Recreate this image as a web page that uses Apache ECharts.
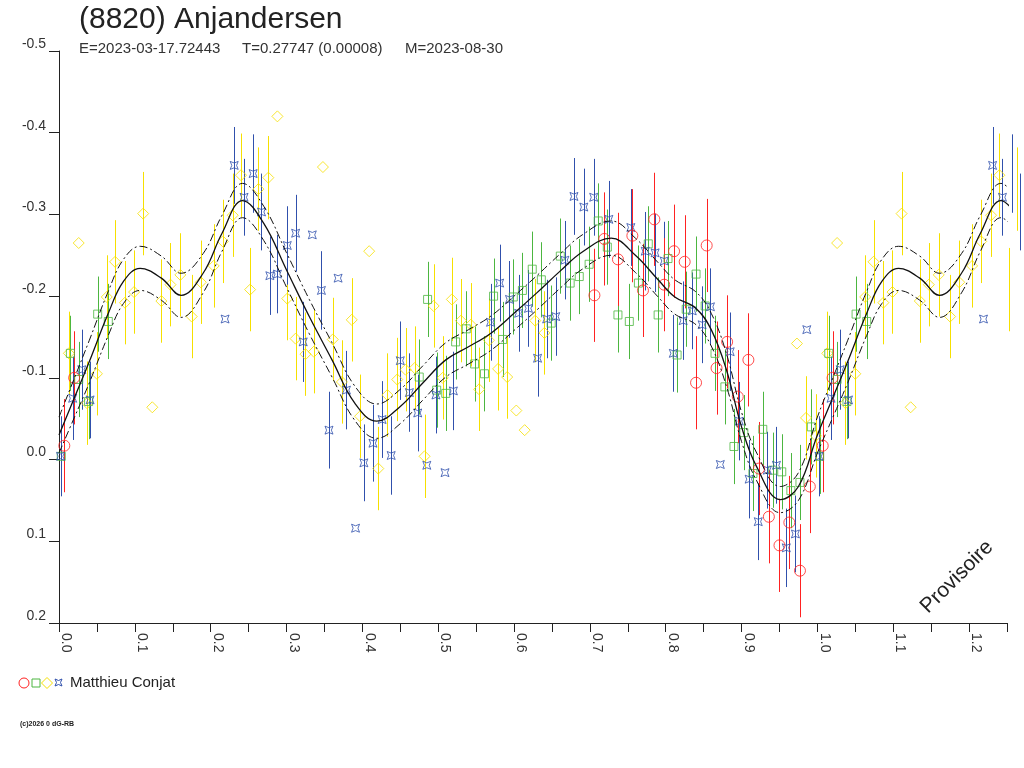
<!DOCTYPE html>
<html>
<head>
<meta charset="utf-8">
<title>(8820) Anjandersen</title>
<script src="https://cdn.jsdelivr.net/npm/echarts@6/dist/echarts.min.js"></script>
<style>
  html, body { margin: 0; padding: 0; background: #fff; }
  #main { width: 1024px; height: 768px; }
</style>
</head>
<body>
<div id="main"></div>
<script>
// phase, magnitude, error (0 = no bar drawn)
const redPoints = [
  [0.007, -0.017, 0.057], [0.020, -0.100, 0.057], [0.706, -0.201, 0.057],
  [0.719, -0.270, 0.057], [0.737, -0.245, 0.057], [0.756, -0.274, 0.057],
  [0.770, -0.207, 0.057], [0.785, -0.294, 0.057], [0.798, -0.214, 0.057],
  [0.811, -0.255, 0.057], [0.825, -0.242, 0.057], [0.840, -0.094, 0.057],
  [0.854, -0.262, 0.057], [0.867, -0.112, 0.057], [0.881, -0.144, 0.057],
  [0.895, -0.077, 0.057], [0.909, -0.122, 0.057], [0.923, 0.011, 0.057],
  [0.936, 0.070, 0.057], [0.950, 0.105, 0.057], [0.963, 0.077, 0.057],
  [0.977, 0.136, 0.057], [0.990, 0.033, 0.057],
];

const greenPoints = [
  [0.003, -0.004, 0.046], [0.015, -0.130, 0.046], [0.026, -0.098, 0.046],
  [0.039, -0.071, 0.046], [0.051, -0.178, 0.046], [0.065, -0.169, 0.046],
  [0.475, -0.101, 0.046], [0.486, -0.196, 0.046], [0.498, -0.085, 0.046],
  [0.510, -0.081, 0.046], [0.523, -0.144, 0.046], [0.537, -0.160, 0.046],
  [0.548, -0.117, 0.046], [0.561, -0.105, 0.046], [0.573, -0.200, 0.046],
  [0.585, -0.147, 0.046], [0.599, -0.199, 0.046], [0.611, -0.207, 0.046],
  [0.624, -0.233, 0.046], [0.636, -0.220, 0.046], [0.649, -0.167, 0.046],
  [0.661, -0.249, 0.046], [0.674, -0.216, 0.046], [0.686, -0.224, 0.046],
  [0.699, -0.239, 0.046], [0.711, -0.292, 0.046], [0.723, -0.260, 0.046],
  [0.737, -0.177, 0.046], [0.752, -0.169, 0.046], [0.764, -0.216, 0.046],
  [0.777, -0.264, 0.046], [0.790, -0.177, 0.046], [0.803, -0.246, 0.046],
  [0.815, -0.128, 0.046], [0.827, -0.184, 0.046], [0.840, -0.227, 0.046],
  [0.852, -0.188, 0.046], [0.865, -0.130, 0.046], [0.878, -0.089, 0.046],
  [0.890, -0.016, 0.046], [0.903, -0.033, 0.046], [0.915, 0.017, 0.046],
  [0.928, -0.037, 0.046], [0.941, 0.013, 0.046], [0.953, 0.015, 0.046],
  [0.965, 0.038, 0.046], [0.977, 0.028, 0.046], [0.992, -0.040, 0.046],
];

const yellowPoints = [
  [0.013, -0.130, 0.051], [0.026, -0.265, 0], [0.037, -0.069, 0.051],
  [0.050, -0.105, 0.051], [0.063, -0.199, 0.051], [0.074, -0.242, 0.051],
  [0.087, -0.192, 0.051], [0.099, -0.205, 0.051], [0.111, -0.301, 0.051],
  [0.123, -0.064, 0], [0.135, -0.194, 0.051], [0.147, -0.214, 0.051],
  [0.160, -0.226, 0.051], [0.175, -0.175, 0.051], [0.187, -0.217, 0.051],
  [0.204, -0.237, 0.051], [0.216, -0.267, 0.051], [0.229, -0.299, 0.051],
  [0.240, -0.348, 0.051], [0.252, -0.208, 0.051], [0.263, -0.331, 0.051],
  [0.276, -0.345, 0.051], [0.288, -0.420, 0], [0.301, -0.197, 0.051],
  [0.312, -0.148, 0.051], [0.325, -0.129, 0.051], [0.336, -0.132, 0.051],
  [0.348, -0.358, 0], [0.361, -0.147, 0.051], [0.373, -0.095, 0.051],
  [0.386, -0.171, 0.051], [0.397, -0.053, 0.051], [0.409, -0.255, 0],
  [0.421, 0.011, 0.051], [0.433, -0.079, 0.051], [0.446, -0.098, 0.051],
  [0.457, -0.110, 0.051], [0.469, -0.112, 0.051], [0.482, -0.004, 0.051],
  [0.494, -0.188, 0.051], [0.506, -0.100, 0.051], [0.518, -0.196, 0.051],
  [0.530, -0.170, 0.051], [0.543, -0.165, 0.051], [0.554, -0.086, 0.051],
  [0.567, -0.146, 0.051], [0.579, -0.111, 0.051], [0.591, -0.101, 0.051],
  [0.603, -0.060, 0], [0.614, -0.036, 0], [0.628, -0.170, 0.051],
  [0.640, -0.155, 0.051], [0.973, -0.142, 0], [0.985, -0.051, 0.051],
  [0.998, -0.029, 0.051],
];

const bluePoints = [
  [0.002, -0.004, 0.049], [0.018, -0.075, 0.051], [0.030, -0.110, 0.049],
  [0.041, -0.073, 0.047], [0.219, -0.172, 0], [0.231, -0.360, 0.047],
  [0.244, -0.321, 0.047], [0.256, -0.350, 0.048], [0.267, -0.303, 0.047],
  [0.278, -0.225, 0.048], [0.288, -0.227, 0.048], [0.301, -0.262, 0.048],
  [0.312, -0.277, 0.047], [0.322, -0.144, 0.049], [0.334, -0.275, 0],
  [0.346, -0.207, 0.048], [0.356, -0.036, 0.047], [0.368, -0.222, 0],
  [0.379, -0.085, 0.048], [0.391, 0.084, 0], [0.402, 0.004, 0.047],
  [0.414, -0.020, 0.047], [0.426, -0.049, 0.047], [0.438, -0.005, 0.048],
  [0.450, -0.121, 0.048], [0.462, -0.082, 0.048], [0.473, -0.057, 0.047],
  [0.485, 0.007, 0], [0.497, -0.079, 0.047], [0.509, 0.016, 0],
  [0.520, -0.084, 0.048], [0.569, -0.168, 0.047], [0.581, -0.216, 0.047],
  [0.594, -0.196, 0.047], [0.606, -0.179, 0.047], [0.619, -0.185, 0.047],
  [0.631, -0.124, 0.047], [0.643, -0.172, 0.048], [0.655, -0.175, 0.048],
  [0.667, -0.244, 0.048], [0.679, -0.322, 0.047], [0.692, -0.309, 0.047],
  [0.705, -0.321, 0.047], [0.725, -0.294, 0.047], [0.754, -0.284, 0.047],
  [0.773, -0.255, 0.048], [0.786, -0.253, 0.048], [0.798, -0.243, 0.048],
  [0.810, -0.130, 0.047], [0.823, -0.170, 0.048], [0.835, -0.182, 0.047],
  [0.848, -0.165, 0.047], [0.859, -0.187, 0.047], [0.872, 0.006, 0],
  [0.885, -0.132, 0.048], [0.897, -0.047, 0.048], [0.910, 0.024, 0.048],
  [0.922, 0.076, 0.047], [0.934, 0.013, 0.047], [0.946, 0.007, 0.047],
  [0.959, 0.108, 0.048], [0.971, 0.091, 0.047], [0.986, -0.159, 0],
];

// fitted curve, with half-width of the dash-dot envelope
const curvePhase = [0, 0.02, 0.04, 0.065, 0.085, 0.107, 0.135, 0.161, 0.19, 0.215,
  0.242, 0.27, 0.3, 0.33, 0.36, 0.39, 0.419, 0.45, 0.48, 0.51, 0.54, 0.57, 0.6,
  0.63, 0.66, 0.69, 0.728, 0.76, 0.79, 0.812, 0.84, 0.86, 0.88, 0.9, 0.92, 0.951, 0.975];
const curveMag = [-0.030, -0.075, -0.120, -0.179, -0.218, -0.234, -0.222, -0.201, -0.228, -0.277,
  -0.317, -0.289, -0.232, -0.175, -0.122, -0.069, -0.047, -0.065, -0.094, -0.122, -0.138, -0.155, -0.179,
  -0.204, -0.230, -0.254, -0.271, -0.250, -0.220, -0.199, -0.185, -0.159, -0.110, -0.040, 0.009, 0.049, 0.033];
const bandHalf = [0.022, 0.024, 0.026, 0.027, 0.027, 0.027, 0.027, 0.027, 0.024, 0.022,
  0.021, 0.021, 0.021, 0.021, 0.021, 0.021, 0.021, 0.021, 0.021, 0.021, 0.021, 0.021, 0.021,
  0.021, 0.021, 0.021, 0.021, 0.021, 0.021, 0.021, 0.020, 0.020, 0.020, 0.018, 0.017, 0.016, 0.017];

const yTicks = [-0.5, -0.4, -0.3, -0.2, -0.1, 0.0, 0.1, 0.2];

const colors = {
  red: '#ff2222',
  green: '#4cb640',
  yellow: '#f6e000',
  blue: '#3050ac',
};

const font = 'Liberation Sans, Arial, sans-serif';
const starPath = 'path://M0,0 L5,2 L10,0 L8,5 L10,10 L5,8 L0,10 L2,5 Z';

// the phase plot repeats 0..0.25 after 1.0
const wrap = (pts) => pts.concat(pts.filter((p) => p[0] <= 0.27).map((p) => [p[0] + 1, p[1], p[2]]));

const curveRows = [];
for (let i = 0; i < curvePhase.length; i++) {
  curveRows.push([curvePhase[i], curveMag[i], bandHalf[i]]);
}
const curveAll = wrap(curveRows);
curveAll.sort((a, b) => a[0] - b[0]);

const myChart = echarts.init(document.getElementById('main'));

const errorSeries = (name, pts, color) => ({
  name: name + ' err',
  type: 'custom',
  silent: true,
  z: 2,
  data: wrap(pts),
  renderItem: (params, api) => {
    const e = api.value(2);
    if (!e) return null;
    const a = api.coord([api.value(0), api.value(1) - e]);
    const b = api.coord([api.value(0), api.value(1) + e]);
    const x = Math.round(a[0]) + 0.5;
    return {
      type: 'line',
      shape: { x1: x, y1: a[1], x2: x, y2: b[1] },
      style: { stroke: color, lineWidth: 1 },
    };
  },
});

const pointSeries = (name, pts, color, symbol, size) => ({
  name,
  type: 'scatter',
  z: 3,
  symbol,
  symbolSize: size,
  data: wrap(pts).map((p) => [p[0], p[1]]),
  itemStyle: { color: 'rgba(0,0,0,0)', borderColor: color, borderWidth: 1 },
});

const option = {
  animation: false,
  backgroundColor: '#fff',
  grid: { left: 59, right: 17, top: 51, bottom: 145 },
  xAxis: {
    type: 'value',
    min: 0,
    max: 1.25,
    interval: 0.05,
    axisLine: { onZero: false, lineStyle: { color: '#222', width: 1 } },
    axisTick: { length: 9, lineStyle: { color: '#222' } },
    splitLine: { show: false },
    axisLabel: {
      rotate: -90,
      margin: 10,
      color: '#333',
      fontSize: 14,
      fontFamily: font,
      verticalAlign: 'bottom',
      formatter: (v) => (Math.round(v * 100) % 10 === 0 ? v.toFixed(1) : ''),
    },
  },
  yAxis: {
    type: 'value',
    inverse: true,
    min: yTicks[0],
    max: yTicks[yTicks.length - 1],
    interval: 0.1,
    axisLine: { onZero: false, lineStyle: { color: '#222', width: 1 } },
    axisTick: { length: 10, lineStyle: { color: '#222' } },
    splitLine: { show: false },
    axisLabel: {
      margin: 13,
      color: '#333',
      fontSize: 14,
      fontFamily: font,
      verticalAlign: 'bottom',
      formatter: (v) => (Math.abs(v) < 1e-9 ? '0.0' : v.toFixed(1)),
    },
  },
  series: [
    {
      name: 'fit',
      type: 'line',
      z: 4,
      smooth: 0.4,
      showSymbol: false,
      silent: true,
      data: curveAll.map((p) => [p[0], p[1]]),
      lineStyle: { color: '#111', width: 1.3 },
    },
    {
      name: 'fit+',
      type: 'line',
      z: 4,
      smooth: 0.4,
      showSymbol: false,
      silent: true,
      data: curveAll.map((p) => [p[0], p[1] - p[2]]),
      lineStyle: { color: '#111', width: 1, type: [8, 3, 2, 3] },
    },
    {
      name: 'fit-',
      type: 'line',
      z: 4,
      smooth: 0.4,
      showSymbol: false,
      silent: true,
      data: curveAll.map((p) => [p[0], p[1] + p[2]]),
      lineStyle: { color: '#111', width: 1, type: [8, 3, 2, 3] },
    },
    errorSeries('yellow', yellowPoints, colors.yellow),
    errorSeries('green', greenPoints, colors.green),
    errorSeries('blue', bluePoints, colors.blue),
    errorSeries('red', redPoints, colors.red),
    pointSeries('yellow', yellowPoints, colors.yellow, 'diamond', 11),
    pointSeries('green', greenPoints, colors.green, 'rect', 8),
    pointSeries('blue', bluePoints, colors.blue, starPath, 8),
    pointSeries('red', redPoints, colors.red, 'circle', 11),
  ],
  graphic: [
    {
      type: 'text', x: 79, y: 20,
      style: { text: '(8820) Anjandersen', font: '30px ' + font, fill: '#222', verticalAlign: 'middle' },
    },
    {
      type: 'text', x: 79, y: 49,
      style: { text: 'E=2023-03-17.72443', font: '15px ' + font, fill: '#333', verticalAlign: 'middle' },
    },
    {
      type: 'text', x: 242, y: 49,
      style: { text: 'T=0.27747 (0.00008)', font: '15px ' + font, fill: '#333', verticalAlign: 'middle' },
    },
    {
      type: 'text', x: 405, y: 49,
      style: { text: 'M=2023-08-30', font: '15px ' + font, fill: '#333', verticalAlign: 'middle' },
    },
    {
      type: 'circle', shape: { cx: 24, cy: 683, r: 5 },
      style: { fill: 'none', stroke: colors.red, lineWidth: 1 },
    },
    {
      type: 'rect', shape: { x: 32, y: 679, width: 8, height: 8 },
      style: { fill: 'none', stroke: colors.green, lineWidth: 1 },
    },
    {
      type: 'polygon', shape: { points: [[47, 677.5], [52.5, 683], [47, 688.5], [41.5, 683]] },
      style: { fill: 'none', stroke: colors.yellow, lineWidth: 1 },
    },
    {
      type: 'polygon',
      shape: { points: [[55, 679], [58.5, 680.5], [62, 679], [60.5, 682.5], [62, 686], [58.5, 684.5], [55, 686], [56.5, 682.5]] },
      style: { fill: 'none', stroke: colors.blue, lineWidth: 1 },
    },
    {
      type: 'text', x: 70, y: 683,
      style: { text: 'Matthieu Conjat', font: '15px ' + font, fill: '#222', verticalAlign: 'middle' },
    },
    {
      type: 'text', x: 20, y: 724,
      style: { text: '(c)2026 0 dG-RB', font: 'bold 7px ' + font, fill: '#222', verticalAlign: 'middle' },
    },
    {
      type: 'text', x: 957, y: 577, rotation: Math.PI / 4,
      style: { text: 'Provisoire', font: '21px ' + font, fill: '#222', align: 'center', verticalAlign: 'middle' },
    },
  ],
};

myChart.setOption(option);
</script>
</body>
</html>
